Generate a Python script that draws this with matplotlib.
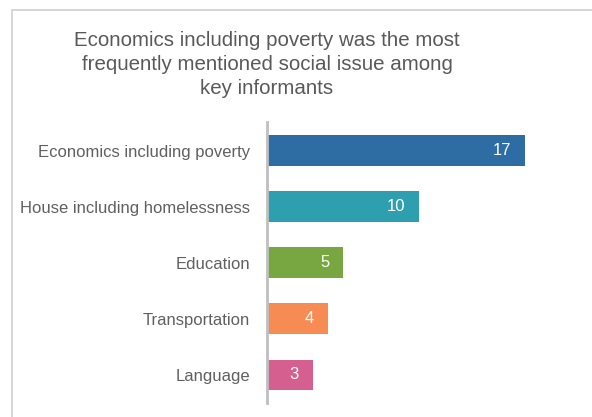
import matplotlib.pyplot as plt
from matplotlib.patches import Rectangle

# data
issues = ['Economics including poverty', 'House including homelessness',
          'Education', 'Transportation', 'Language']
mentions = [17, 10, 5, 4, 3]
colors = ['#2E6DA4', '#2E9FAF', '#78A640', '#F68B53', '#D55F8F']
title = ('Economics including poverty was the most\n'
         'frequently mentioned social issue among\n'
         'key informants')

plt.rcParams['font.family'] = ['Liberation Sans', 'DejaVu Sans']

fig = plt.figure(figsize=(5.92, 4.17), dpi=100)
# outer chart frame
fig.patches.append(Rectangle((12 / 592, -0.1), 1.2, 1 - 10 / 417 + 0.1,
                             transform=fig.transFigure, fill=False,
                             edgecolor='#D0D0D0', lw=1.2))

ax = fig.add_axes([0.451, 0.0336, 0.513, 0.6727])
ypos = list(range(len(issues)))
bars = ax.barh(ypos, mentions, height=0.55, color=colors)
ax.set_ylim(len(issues) - 0.5, -0.5)
ax.set_xlim(0, 20)
ax.set_yticks(ypos)
ax.set_yticklabels(issues, fontsize=12, color='#606060')
ax.tick_params(axis='y', length=0, pad=12)
ax.set_xticks([])
for s in ['top', 'right', 'bottom']:
    ax.spines[s].set_visible(False)
ax.spines['left'].set_color('#BFBFBF')
ax.spines['left'].set_linewidth(2)

for b, v in zip(bars, mentions):
    ax.text(b.get_width() - 0.9, b.get_y() + b.get_height() / 2, str(v),
            ha='right', va='center', color='white', fontsize=12)

fig.text(0.451, 0.925, title, ha='center', va='top', fontsize=14.8,
         color='#595959', linespacing=1.32)

fig.savefig('out.png', dpi=100)
